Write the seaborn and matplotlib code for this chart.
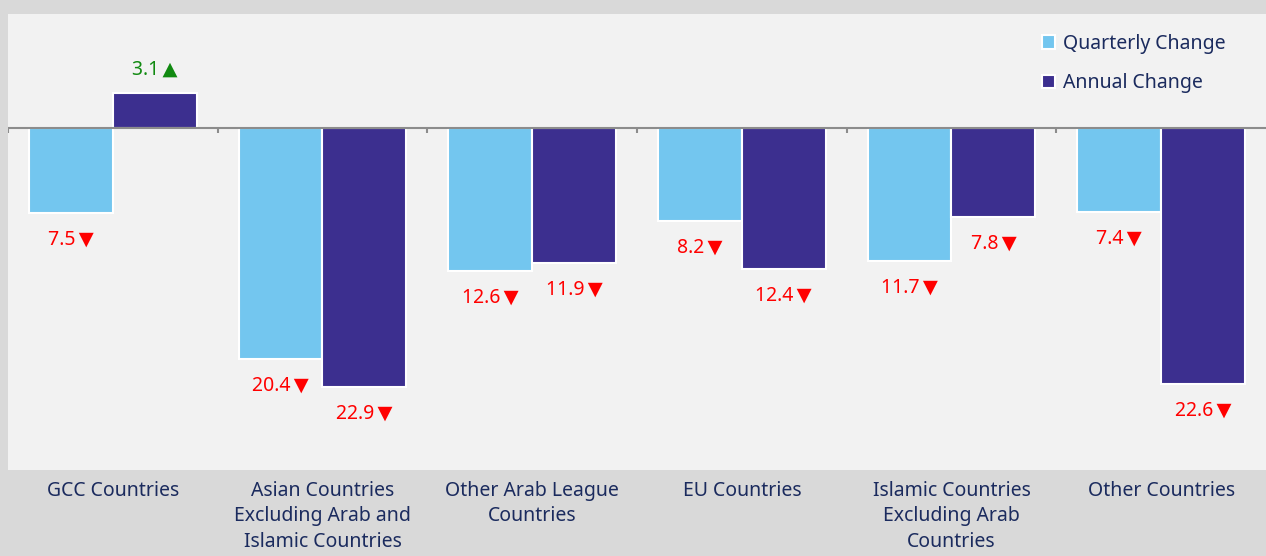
import matplotlib
matplotlib.use("Agg")
import matplotlib.pyplot as plt
import pandas as pd
import seaborn as sns

regions = [
    "GCC Countries",
    "Asian Countries\nExcluding Arab and\nIslamic Countries",
    "Other Arab League\nCountries",
    "EU Countries",
    "Islamic Countries\nExcluding Arab\nCountries",
    "Other Countries",
]
quarterly = [-7.5, -20.4, -12.6, -8.2, -11.7, -7.4]
annual = [3.1, -22.9, -11.9, -12.4, -7.8, -22.6]
series_names = ["Quarterly Change", "Annual Change"]

df = pd.DataFrame({
    "region": regions * 2,
    "value": quarterly + annual,
    "series": [series_names[0]] * len(regions) + [series_names[1]] * len(regions),
})

sns.set_style("white")
plt.rcParams["font.family"] = ["Noto Sans", "DejaVu Sans"]

navy = "#1b2b5e"
fig = plt.figure(figsize=(12.66, 5.56), dpi=100, facecolor="#d9d9d9")
ax = fig.add_axes([0.0063, 0.1547, 0.9937, 0.8201])
ax.set_facecolor("#f2f2f2")

sns.barplot(
    data=df, x="region", y="value", hue="series", order=regions,
    palette=["#73c6ef", "#3c2f8f"], saturation=1, edgecolor="white",
    linewidth=1.5, width=0.8, ax=ax,
)

ax.set_ylim(-30.2, 10.1)
ax.set_xlim(-0.5, len(regions) - 0.5)

# zero line with small ticks between categories
ax.axhline(0, color="#8c8c8c", linewidth=1.5, zorder=3)
ax.vlines([i - 0.5 for i in range(len(regions))], -0.45, 0,
          color="#8c8c8c", linewidth=1.5, zorder=3)

for container in ax.containers:
    for bar in container:
        v = bar.get_height()
        x = bar.get_x() + bar.get_width() / 2
        if v >= 0:
            ax.annotate(f"{abs(v):.1f}\u2009\u25b2", (x, v), xytext=(0, 10),
                        textcoords="offset points", ha="center", va="bottom",
                        color="#118a11", fontsize=14)
        else:
            ax.annotate(f"{abs(v):.1f}\u2009\u25bc", (x, v), xytext=(0, -12),
                        textcoords="offset points", ha="center", va="top",
                        color="#ff0000", fontsize=14)

for s in ax.spines.values():
    s.set_visible(False)
ax.set_yticks([])
ax.set_xlabel("")
ax.set_ylabel("")
ax.tick_params(axis="x", length=0, pad=8, labelsize=14, labelcolor=navy)
for lbl in ax.get_xticklabels():
    lbl.set_verticalalignment("top")
    lbl.set_linespacing(1.35)

leg = ax.legend(loc="upper right", bbox_to_anchor=(0.982, 0.995), frameon=False,
                fontsize=14, handlelength=0.7, handleheight=0.7,
                handletextpad=0.4, labelspacing=1.0)
for t in leg.get_texts():
    t.set_color(navy)

plt.savefig("out.png", dpi=100, facecolor=fig.get_facecolor())
plt.close()
